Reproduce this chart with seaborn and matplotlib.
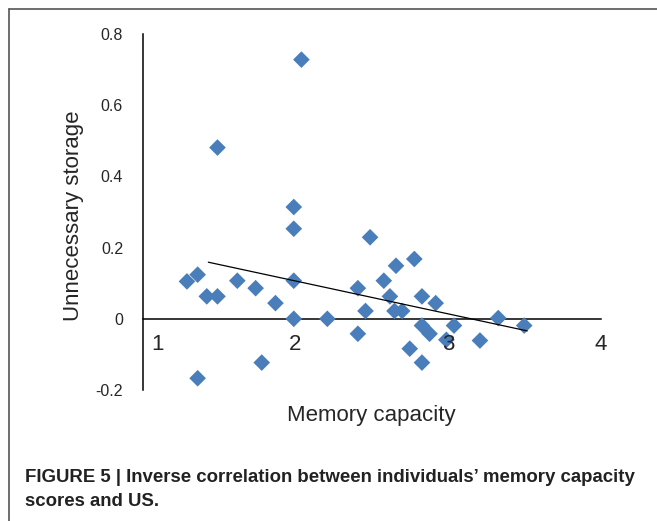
import matplotlib
matplotlib.use("Agg")
import matplotlib.pyplot as plt
import matplotlib.transforms as mtransforms
from matplotlib.lines import Line2D
import seaborn as sns
import pandas as pd

# memory capacity vs unnecessary storage
memory_capacity = [1.29, 1.36, 1.42, 1.49, 1.49, 1.62, 1.74, 1.87, 1.99, 1.99,
                   1.99, 1.99, 2.04, 2.21, 2.41, 2.46, 2.41, 2.49, 1.36, 1.78,
                   2.58, 2.66, 2.78, 2.62, 2.65, 2.70, 2.83, 2.92, 2.83, 2.88,
                   2.75, 2.83, 2.99, 3.04, 3.21, 3.33, 3.50]
unnecessary_storage = [0.105, 0.124, 0.063, 0.063, 0.481, 0.107, 0.086, 0.044, 0.314, 0.253,
                       0.107, 0.0, 0.728, 0.0, 0.086, 0.022, -0.042, 0.229, -0.167, -0.123,
                       0.107, 0.149, 0.168, 0.063, 0.022, 0.022, 0.063, 0.044, -0.019, -0.042,
                       -0.084, -0.123, -0.059, -0.019, -0.061, 0.002, -0.019]

# linear trend line end points
trend_x = [1.43, 3.52]
trend_y = [0.159, -0.034]

x_ticks = [1, 2, 3, 4]
y_ticks = [-0.2, 0, 0.2, 0.4, 0.6, 0.8]
y_tick_labels = ["-0.2", "0", "0.2", "0.4", "0.6", "0.8"]

df = pd.DataFrame({"capacity": memory_capacity, "storage": unnecessary_storage})

sns.set_style("white")
plt.rcParams["font.family"] = ["Liberation Sans", "DejaVu Sans"]

fig = plt.figure(figsize=(6.57, 5.21), dpi=100)
ax = fig.add_axes([142.7 / 657, 1 - 390 / 521, 457.8 / 657, 356 / 521])

sns.scatterplot(data=df, x="capacity", y="storage", marker="D", s=72,
                color="#4a7ebb", edgecolor="none", ax=ax, zorder=3)
sns.lineplot(x=trend_x, y=trend_y, color="black", linewidth=0.9, ax=ax, zorder=4)

ax.set_xlim(1, 4)
ax.set_ylim(-0.2, 0.8)
ax.set_xticks(x_ticks)
ax.set_xticklabels([str(t) for t in x_ticks])
ax.set_yticks(y_ticks)
ax.set_yticklabels(y_tick_labels)

ax.spines["top"].set_visible(False)
ax.spines["right"].set_visible(False)
ax.spines["bottom"].set_position(("data", 0))
for side in ["left", "bottom"]:
    ax.spines[side].set_color("black")
    ax.spines[side].set_linewidth(1.1)
    ax.spines[side].set_zorder(2)

ax.tick_params(axis="y", direction="out", length=4.6, width=1.1, color="black",
               pad=9.5, labelsize=11.5)
ax.tick_params(axis="x", direction="out", length=4, width=1.1, color="black",
               pad=7, labelsize=16)
# tick labels sit on top of the markers (the "3" covers a point)
ax.xaxis.set_zorder(5)

# the "1" label sits a little right of the y axis
first = ax.get_xticklabels()[0]
first.set_transform(first.get_transform() +
                    mtransforms.ScaledTranslation(0.145, 0, fig.dpi_scale_trans))

ax.set_xlabel("Memory capacity", fontsize=16)
ax.xaxis.set_label_coords(0.5, -0.042)
ax.set_ylabel("Unnecessary storage", fontsize=16)
ax.yaxis.set_label_coords(-0.128, 0.49)

# frame lines of the figure panel
fig.add_artist(Line2D([8.5 / 657, 8.5 / 657], [0, 1 - 8.5 / 521],
                      transform=fig.transFigure, color="#555555", linewidth=1.2))
fig.add_artist(Line2D([8.5 / 657, 1], [1 - 8.5 / 521, 1 - 8.5 / 521],
                      transform=fig.transFigure, color="#555555", linewidth=1.2))

caption_font = ["Liberation Sans", "DejaVu Sans"]
fig.text(25 / 657, 1 - 478 / 521,
         "FIGURE 5 | Inverse correlation between individuals\u2019 memory capacity",
         fontsize=13.4, fontweight="bold", family=caption_font, va="center", color="#222222")
fig.text(25 / 657, 1 - 501 / 521, "scores and US.",
         fontsize=13.4, fontweight="bold", family=caption_font, va="center", color="#222222")

fig.savefig("out.png", dpi=100)
